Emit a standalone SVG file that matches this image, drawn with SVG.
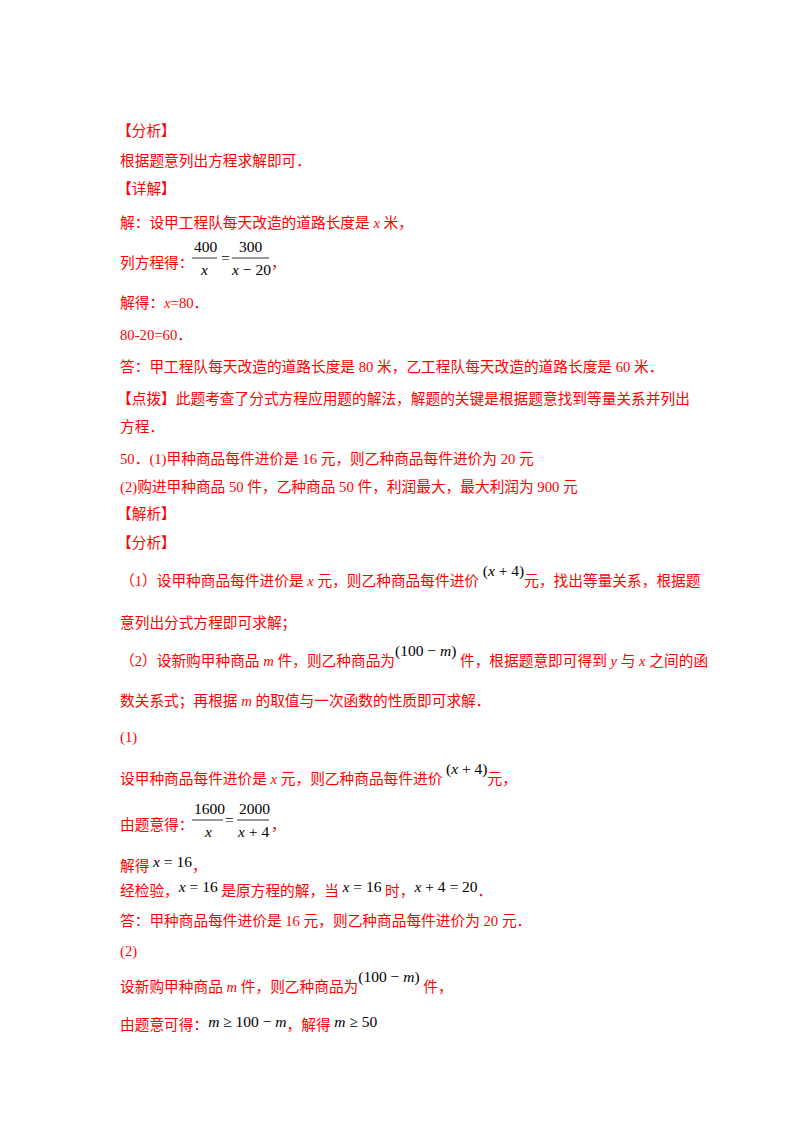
<svg xmlns="http://www.w3.org/2000/svg" width="800" height="1132" viewBox="0 0 800 1132">
<style>
text{font-family:"Liberation Serif","Noto Sans CJK SC",serif;font-size:14.7px;fill:#f00}
.m{fill:#000;font-family:"Liberation Serif",serif;font-size:15.5px}
.i{font-style:italic}
line{stroke:#000;stroke-width:0.8}
</style>
<rect width="800" height="1132" fill="#fff"/>
<text x="117" y="136">【分析】</text>
<text x="120" y="166">根据题意列出方程求解即可．</text>
<text x="117" y="194">【详解】</text>
<text x="120" y="228">解：设甲工程队每天改造的道路长度是 <tspan font-style="italic">x</tspan> 米，</text>
<text x="120" y="268">列方程得：</text>
<text class="m" x="194" y="252">400</text><line x1="192" y1="258" x2="217" y2="258"/><text class="m i" x="201" y="275">x</text>
<text class="m" x="221" y="263">=</text>
<text class="m" x="239" y="252">300</text><line x1="232" y1="258" x2="269" y2="258"/><text class="m" x="232" y="275"><tspan font-style="italic">x</tspan> − 20</text>
<text x="271" y="268">，</text>
<text x="120" y="308">解得：<tspan font-style="italic">x</tspan>=80．</text>
<text x="120" y="340">80-20=60．</text>
<text x="120" y="372">答：甲工程队每天改造的道路长度是 80 米，乙工程队每天改造的道路长度是 60 米．</text>
<text x="117" y="404">【点拨】此题考查了分式方程应用题的解法，解题的关键是根据题意找到等量关系并列出</text>
<text x="120" y="432">方程．</text>
<text x="120" y="464">50．(1)甲种商品每件进价是 16 元，则乙种商品每件进价为 20 元</text>
<text x="120" y="492">(2)购进甲种商品 50 件，乙种商品 50 件，利润最大，最大利润为 900 元</text>
<text x="117" y="519">【解析】</text>
<text x="117" y="548">【分析】</text>
<text x="120" y="586">（1）设甲种商品每件进价是 <tspan font-style="italic">x</tspan> 元，则乙种商品每件进价 <tspan class="m" dy="-10">(<tspan font-style="italic">x</tspan> + 4)</tspan><tspan dy="10">元，找出等量关系，根据题</tspan></text>
<text x="120" y="628">意列出分式方程即可求解；</text>
<text x="120" y="666">（2）设新购甲种商品 <tspan font-style="italic">m</tspan> 件，则乙种商品为<tspan class="m" dy="-10">(100 − <tspan font-style="italic">m</tspan>)</tspan><tspan dy="10"> 件，根据题意即可得到 <tspan font-style="italic">y</tspan> 与 <tspan font-style="italic">x</tspan> 之间的函</tspan></text>
<text x="120" y="706">数关系式；再根据 <tspan font-style="italic">m</tspan> 的取值与一次函数的性质即可求解．</text>
<text x="120" y="742">(1)</text>
<text x="120" y="784">设甲种商品每件进价是 <tspan font-style="italic">x</tspan> 元，则乙种商品每件进价 <tspan class="m" dy="-10">(<tspan font-style="italic">x</tspan> + 4)</tspan><tspan dy="10">元，</tspan></text>
<text x="120" y="830">由题意得：</text>
<text class="m" x="194" y="814">1600</text><line x1="192" y1="820" x2="223" y2="820"/><text class="m i" x="205" y="837">x</text>
<text class="m" x="225" y="825">=</text>
<text class="m" x="239" y="814">2000</text><line x1="237" y1="820" x2="269" y2="820"/><text class="m" x="238" y="837"><tspan font-style="italic">x</tspan> + 4</text>
<text x="271" y="830">，</text>
<text x="120" y="871">解得 <tspan class="m" dy="-4"><tspan font-style="italic">x</tspan> = 16</tspan><tspan dy="4">，</tspan></text>
<text x="120" y="896">经检验，<tspan class="m" dy="-4"><tspan font-style="italic">x</tspan> = 16</tspan><tspan dy="4"> 是原方程的解，当 </tspan><tspan class="m" dy="-4"><tspan font-style="italic">x</tspan> = 16</tspan><tspan dy="4"> 时，</tspan><tspan class="m" dy="-4"><tspan font-style="italic">x</tspan> + 4 = 20</tspan><tspan dy="4">．</tspan></text>
<text x="120" y="926">答：甲种商品每件进价是 16 元，则乙种商品每件进价为 20 元．</text>
<text x="120" y="956">(2)</text>
<text x="120" y="992">设新购甲种商品 <tspan font-style="italic">m</tspan> 件，则乙种商品为<tspan class="m" dy="-10">(100 − <tspan font-style="italic">m</tspan>)</tspan><tspan dy="10"> 件，</tspan></text>
<text x="120" y="1030">由题意可得：<tspan class="m" dy="-3"><tspan font-style="italic">m</tspan> ≥ 100 − <tspan font-style="italic">m</tspan></tspan><tspan dy="3">，解得 </tspan><tspan class="m" dy="-3"><tspan font-style="italic">m</tspan> ≥ 50</tspan></text>
</svg>
